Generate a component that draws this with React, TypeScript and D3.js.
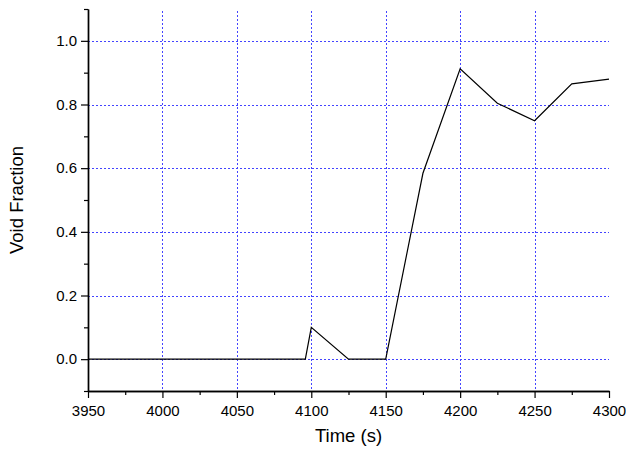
import { useRef, useEffect } from "react";
import * as d3 from "d3";

// series
const times = [3950, 3975, 4000, 4025, 4050, 4075, 4096, 4100, 4125, 4150, 4175, 4200, 4225, 4250, 4275, 4300];
const voidFraction = [0, 0, 0, 0, 0, 0, 0, 0.1, 0, 0, 0.584, 0.912, 0.804, 0.749, 0.865, 0.88];

const xMajor = [3950, 4000, 4050, 4100, 4150, 4200, 4250, 4300];
const xMinor = [3975, 4025, 4075, 4125, 4175, 4225, 4275];
const yMajor = [0, 0.2, 0.4, 0.6, 0.8, 1.0];
const yMinor = [-0.1, 0.1, 0.3, 0.5, 0.7, 0.9, 1.1];
const xGrid = [4000, 4050, 4100, 4150, 4200, 4250];

export default function App() {
	const ref = useRef<SVGSVGElement>(null);

	useEffect(() => {
		const width = 626;
		const height = 451;
		const margin = { top: 9, right: 17, bottom: 60, left: 88 };

		const svg = d3.select(ref.current);
		svg.selectAll("*").remove();

		const font = "'Liberation Sans', Arial, sans-serif";

		// ---- Scales ----
		const x = d3
			.scaleLinear()
			.domain([3950, 4300])
			.range([margin.left, width - margin.right]);

		const y = d3
			.scaleLinear()
			.domain([-0.1, 1.1])
			.range([height - margin.bottom, margin.top]);

		// ---- Grid ----
		const grid = svg
			.append("g")
			.attr("stroke", "#4444ff")
			.attr("stroke-width", 1)
			.attr("stroke-dasharray", "2,2")
			.attr("shape-rendering", "crispEdges");

		grid.selectAll(".hg")
			.data(yMajor)
			.enter()
			.append("line")
			.attr("class", "hg")
			.attr("x1", x(3950))
			.attr("x2", x(4300))
			.attr("y1", (d) => Math.round(y(d)) + 0.5)
			.attr("y2", (d) => Math.round(y(d)) + 0.5);

		grid.selectAll(".vg")
			.data(xGrid)
			.enter()
			.append("line")
			.attr("class", "vg")
			.attr("x1", (d) => Math.round(x(d)) + 0.5)
			.attr("x2", (d) => Math.round(x(d)) + 0.5)
			.attr("y1", y(1.1) + 2)
			.attr("y2", y(-0.1));

		// ---- Line ----
		const line = d3
			.line<number>()
			.x((d, i) => x(times[i]))
			.y((d) => y(d));

		svg.append("path")
			.datum(voidFraction)
			.attr("fill", "none")
			.attr("stroke", "#000")
			.attr("stroke-width", 1.2)
			.attr("d", line);

		// ---- Axes ----
		svg.append("g")
			.attr("transform", `translate(0,${y(-0.1)})`)
			.call(d3.axisBottom(x).tickValues(xMinor).tickSize(4).tickSizeOuter(0).tickFormat(() => ""));
		svg.append("g")
			.attr("transform", `translate(0,${y(-0.1)})`)
			.call(
				d3.axisBottom(x).tickValues(xMajor).tickSize(7).tickSizeOuter(0).tickPadding(7).tickFormat(d3.format("d"))
			);

		svg.append("g")
			.attr("transform", `translate(${x(3950)},0)`)
			.call(d3.axisLeft(y).tickValues(yMinor).tickSize(4).tickSizeOuter(0).tickFormat(() => ""));
		svg.append("g")
			.attr("transform", `translate(${x(3950)},0)`)
			.call(
				d3.axisLeft(y).tickValues(yMajor).tickSize(7).tickSizeOuter(0).tickPadding(4).tickFormat(d3.format(".1f"))
			);

		svg.selectAll(".domain").attr("stroke", "#000").attr("stroke-width", 1.4);
		svg.selectAll(".tick line").attr("stroke", "#000").attr("stroke-width", 1.2);
		svg.selectAll(".tick text").style("font-family", font).style("font-size", "15px").attr("fill", "#000");

		// ---- Axis labels ----
		svg.append("text")
			.attr("x", (x(3950) + x(4300)) / 2)
			.attr("y", 442)
			.attr("text-anchor", "middle")
			.style("font-family", font)
			.style("font-size", "18.5px")
			.text("Time (s)");

		svg.append("text")
			.attr("transform", "rotate(-90)")
			.attr("x", -200)
			.attr("y", 23)
			.attr("text-anchor", "middle")
			.style("font-family", font)
			.style("font-size", "18.5px")
			.text("Void Fraction");
	}, []);

	return (
		<div style={{ position: "fixed", left: 0, top: 0, background: "#fff" }}>
			<svg ref={ref} width={626} height={451} style={{ display: "block" }} />
		</div>
	);
}
